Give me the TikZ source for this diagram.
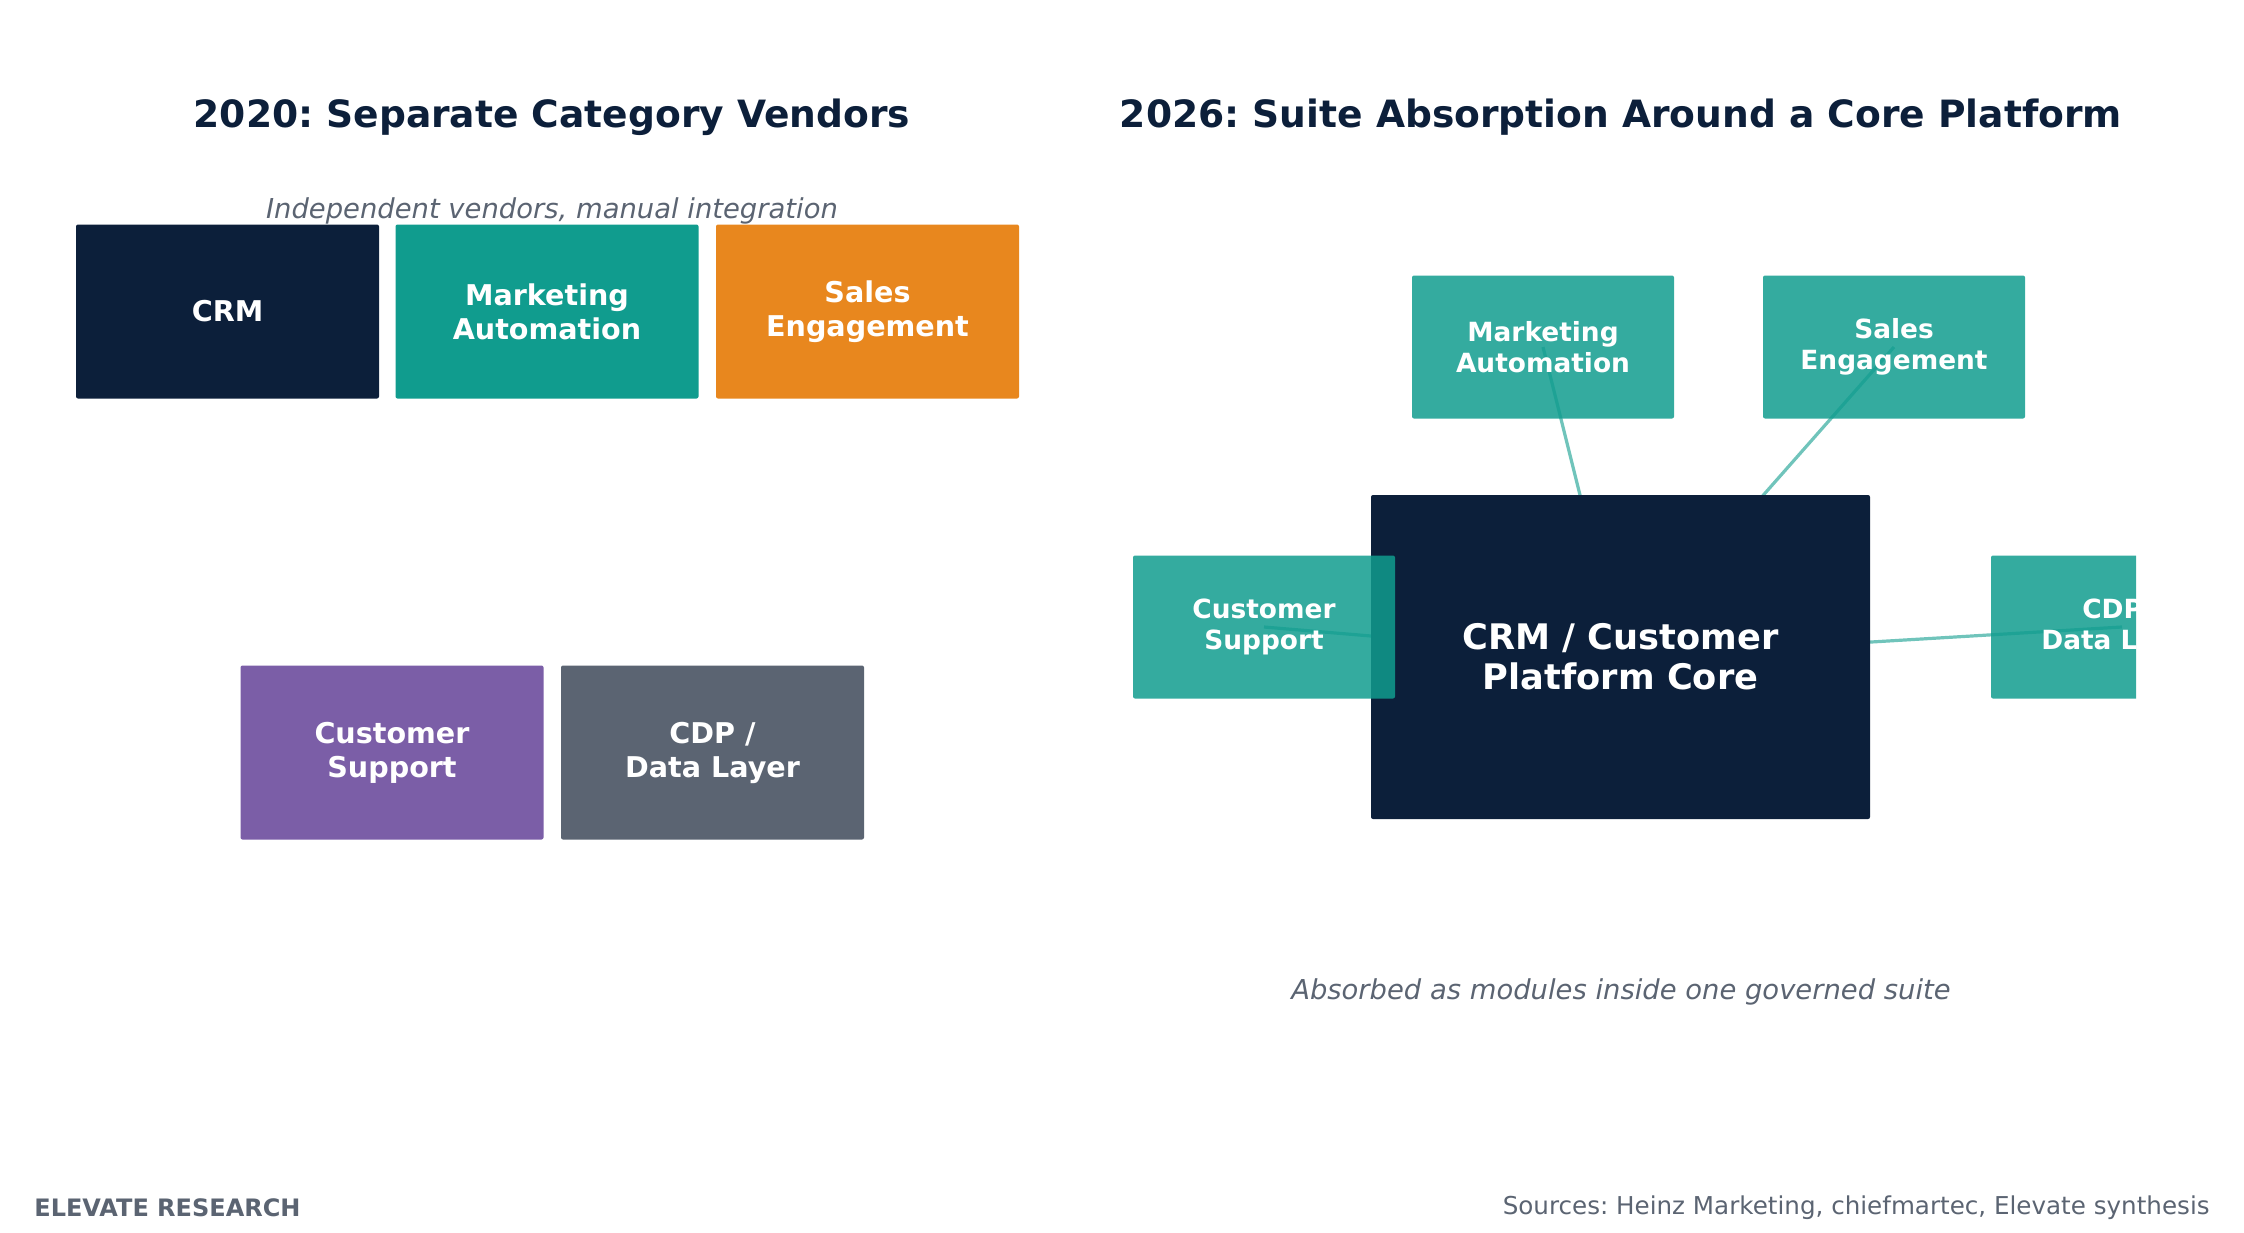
\documentclass[tikz,border=0pt]{standalone}
\usepackage{fontspec}
\setmainfont{DejaVu Sans}
\frenchspacing
\usetikzlibrary{positioning}
\definecolor{navy}{HTML}{0C1F3A}
\definecolor{tealc}{HTML}{109C8E}
\definecolor{orangec}{HTML}{E8871E}
\definecolor{purplec}{HTML}{7B5EA7}
\definecolor{slatec}{HTML}{5B6472}
\pgfdeclarelayer{background}
\pgfsetlayers{background,main}
\tikzset{
    every node/.style={inner sep=0pt},
    panel title/.style={text=navy,font=\fontsize{18.8}{22}\selectfont\bfseries},
    panel note/.style={text=slatec,font=\fontsize{13.7}{16}\selectfont\itshape},
    vendor box/.style={rectangle,rounded corners=1pt,minimum width=151.5pt,minimum height=87pt,
        text=white,align=center,font=\fontsize{14.3}{17}\selectfont\bfseries},
    module box/.style={rectangle,rounded corners=1pt,minimum width=131pt,minimum height=71.5pt,
        fill=tealc,fill opacity=0.85,text opacity=1,text=white,align=center,
        font=\fontsize{13.2}{15.7}\selectfont\bfseries},
    core box/.style={rectangle,rounded corners=1pt,minimum width=249.5pt,minimum height=162pt,
        fill=navy,text=white,align=center,font=\fontsize{17.6}{20}\selectfont\bfseries},
    link/.style={draw=tealc,draw opacity=0.6,line width=1.6pt}
}
\begin{document}
\begin{tikzpicture}[x=0.5pt,y=-0.5pt]

    \useasboundingbox (0,0) rectangle (2244,1232);

    % 2020 panel
    \node[panel title] (title1) at (552,117) {2020: Separate Category Vendors};
    \node[panel note] (note1) at (552,211) {Independent vendors, manual integration};

    \node[vendor box,fill=navy] (crm) at (227.5,311.5) {CRM};
    \node[vendor box,fill=tealc] (ma) at (547,311.5) {Marketing\\Automation};
    \node[vendor box,fill=orangec] (se) at (867.5,311.5) {Sales\\Engagement};
    \node[vendor box,fill=purplec] (cs) at (392,752.5) {Customer\\Support};
    \node[vendor box,fill=slatec] (cdp) at (712.5,752.5) {CDP /\\Data Layer};

    % 2026 panel
    \node[panel title] (title2) at (1621,117) {2026: Suite Absorption Around a Core Platform};

    \node[core box] (core) at (1620.5,657) {CRM / Customer\\Platform Core};
    \node[module box] (ma2) at (1543,347) {Marketing\\Automation};
    \node[module box] (se2) at (1894,347) {Sales\\Engagement};
    \node[module box] (cs2) at (1264,627) {Customer\\Support};
    \begin{scope}
        \clip (1100,0) rectangle (2136,1232);
        \node[module box] (cdp2) at (2122,627) {CDP /\\Data Layer};
    \end{scope}

    \begin{pgfonlayer}{background}
        \foreach \m in {ma2,se2,cs2,cdp2}
            \draw[link] (\m.center) -- (core.center);
    \end{pgfonlayer}

    \node[panel note] (note2) at (1621,992) {Absorbed as modules inside one governed suite};

    % footer
    \node[anchor=west,text=slatec,font=\fontsize{12}{14}\selectfont\bfseries] (brand) at (34,1208) {ELEVATE RESEARCH};
    \node[anchor=east,text=slatec,font=\fontsize{12.3}{14}\selectfont] (sources) at (2210,1208) {Sources: Heinz Marketing, chiefmartec, Elevate synthesis};

\end{tikzpicture}
\end{document}
